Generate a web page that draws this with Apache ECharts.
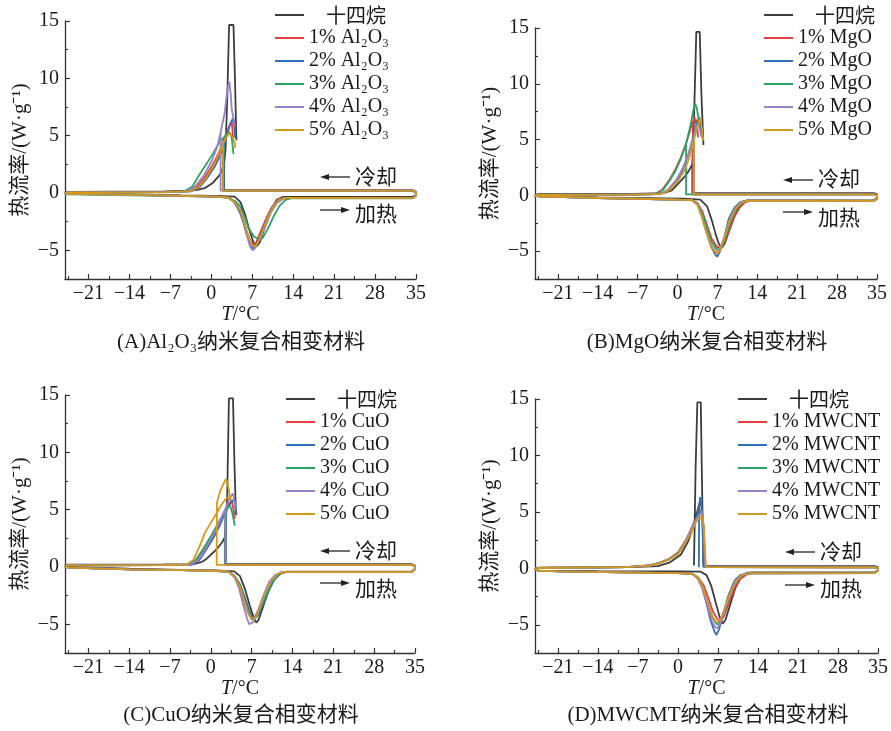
<!DOCTYPE html>
<html>
<head>
<meta charset="utf-8">
<script src="https://cdn.jsdelivr.net/npm/echarts/dist/echarts.min.js"></script>
<style>
  html, body { margin: 0; padding: 0; background: #fff; }
  #chart { width: 891px; height: 731px; }
</style>
</head>
<body>
<div id="chart"></div>
<script>
// ---- axis ticks ----
const X_MAJOR = [-21, -14, -7, 0, 7, 14, 21, 28, 35];
const X_MINOR = [-24.5, -17.5, -10.5, -3.5, 3.5, 10.5, 17.5, 24.5, 31.5];
const Y_MAJOR = [-5, 0, 5, 10, 15];
const Y_MINOR = [-2.5, 2.5, 7.5, 12.5];

// ---- legend names ----
const NAMES_AL = ['十四烷', '1% Al₂O₃', '2% Al₂O₃', '3% Al₂O₃', '4% Al₂O₃', '5% Al₂O₃'];
const NAMES_MG = ['十四烷', '1% MgO', '2% MgO', '3% MgO', '4% MgO', '5% MgO'];
const NAMES_CU = ['十四烷', '1% CuO', '2% CuO', '3% CuO', '4% CuO', '5% CuO'];
const NAMES_CNT = ['十四烷', '1% MWCNT', '2% MWCNT', '3% MWCNT', '4% MWCNT', '5% MWCNT'];

// ---- DSC loops [T (°C), heat flow (W/g)]; null pair = pen up ----
// (A) Al2O3
const al_0 = [[-24.6,0.1],[-25,0.02],[-24.5,-0.05],[-14,-0.12],[-5,-0.2],[1,-0.25],[4,-0.32],[5,-0.8],[5.8,-1.9],[6.5,-3.2],[7.2,-4.3],[7.8,-4.65],[8.3,-4.3],[9.2,-2.9],[10.2,-1.5],[11.2,-0.6],[12.2,-0.35],[34.4,-0.35],[35,-0.15],[35,0.1],[34.4,0.25],[2.2,0.25],[2.2,2.5],
  [null,null],
  [-24.6,0.1],[-8,0.15],[-3.5,0.2],[-2.2,0.3],[-1,0.45],[0.3,0.9],[1.5,1.6],[2.2,2.5],[2.45,3.9],[2.75,8.5],[3.05,14.65],[3.8,14.65],[4.05,10],[4.3,4.6]];
const al_1 = [[-24.6,0.05],[-25,-0.02],[-24.4,-0.08],[-14,-0.17],[-5,-0.25],[1,-0.32],[3,-0.4],[4,-0.8],[5,-1.6],[5.6,-2.5],[6.3,-3.7],[6.9,-4.4],[7.25,-4.55],[7.7,-4.3],[8.5,-3.3],[9.4,-2.2],[10.4,-1.2],[11.4,-0.6],[12.5,-0.43],[34.4,-0.45],[35,-0.25],[35,0.05],[34.4,0.2],[2.0,0.2],[2.0,4.4],
  [null,null],
  [-24.6,0.05],[-8,0.08],[-3.8,0.15],[-2.5,0.5],[-1.2,1.3],[0.2,2.4],[1.2,3.4],[2.0,4.4],[2.6,5.2],[3.0,5.7],[3.5,6.2],[3.65,5.4],[3.75,4.5]];
const al_2 = [[-24.6,0.05],[-25,-0.02],[-24.4,-0.08],[-14,-0.17],[-5,-0.25],[1,-0.32],[3,-0.4],[4,-0.85],[4.9,-1.7],[5.5,-2.6],[6.1,-3.7],[6.7,-4.6],[7.15,-4.85],[7.6,-4.6],[8.4,-3.7],[9.3,-2.5],[10.3,-1.4],[11.3,-0.7],[12.4,-0.45],[34.4,-0.45],[35,-0.25],[35,0.05],[34.4,0.2],[2.1,0.2],[2.1,4.0],
  [null,null],
  [-24.6,0.05],[-8,0.08],[-3.4,0.15],[-2,0.5],[-0.7,1.3],[0.6,2.3],[1.6,3.4],[2.1,4.0],[2.5,4.7],[3.2,6.0],[3.7,6.5],[3.95,5.8],[4.1,4.8]];
const al_3 = [[-24.6,0.03],[-25,-0.05],[-24.4,-0.12],[-14,-0.2],[-5,-0.27],[1,-0.34],[3,-0.42],[4.2,-0.75],[5,-1.2],[5.8,-2.2],[6.4,-3.1],[7.3,-3.8],[8.2,-4.05],[8.8,-3.9],[9.8,-3.0],[10.7,-2.0],[11.7,-1.1],[12.7,-0.6],[13.8,-0.45],[34.4,-0.47],[35,-0.25],[35,0.03],[34.4,0.18],[2.1,0.18],[2.1,4.8],
  [null,null],
  [-24.6,0.03],[-8,0.06],[-4.5,0.15],[-3.2,0.6],[-1.9,1.7],[-0.5,2.8],[0.35,3.5],[1.5,4.5],[2.1,4.8],[2.5,5.1],[3.2,5.3],[3.5,4.8],[3.8,3.4]];
const al_4 = [[-24.6,0.05],[-25,-0.02],[-24.4,-0.08],[-14,-0.17],[-5,-0.25],[1,-0.32],[3,-0.4],[4,-0.8],[5,-1.5],[5.5,-2.2],[6.1,-3.7],[6.6,-4.6],[7.05,-5.0],[7.5,-4.8],[8.3,-4.0],[9.2,-3.0],[10.2,-1.7],[11.2,-0.9],[12.3,-0.5],[13,-0.43],[34.4,-0.45],[35,-0.25],[35,0.05],[34.4,0.2],[1.6,0.2],[1.6,5.3],
  [null,null],
  [-24.6,0.05],[-8,0.08],[-4.1,0.15],[-2.7,0.6],[-1.3,1.5],[0,2.7],[1.0,4.0],[1.6,5.3],[2.3,7.0],[2.8,9.2],[3.1,9.7],[3.35,8.5],[3.5,7.3],[3.7,7.3],[3.9,6.3],[4.0,5.8]];
const al_5 = [[-24.6,0.05],[-25,-0.02],[-24.4,-0.08],[-14,-0.17],[-5,-0.25],[1,-0.32],[3,-0.4],[4,-0.8],[5,-1.6],[5.7,-2.7],[6.4,-3.9],[7.0,-4.55],[7.4,-4.7],[7.9,-4.4],[8.7,-3.4],[9.6,-2.2],[10.6,-1.2],[11.6,-0.6],[12.6,-0.43],[34.4,-0.45],[35,-0.25],[35,0.05],[34.4,0.2],[2.0,0.2],[2.0,4.3],
  [null,null],
  [-24.6,0.05],[-8,0.08],[-3.6,0.15],[-2.2,0.5],[-0.9,1.3],[0.4,2.4],[1.3,3.4],[2.0,4.3],[2.6,4.9],[3.1,5.2],[3.6,4.9],[4.0,4.4],[4.1,3.9]];

// (B) MgO
const mg_0 = [[-24.6,0.1],[-25,0.02],[-24.5,-0.05],[-14,-0.18],[-5,-0.25],[1,-0.3],[4,-0.38],[5.2,-1.0],[6.0,-2.2],[6.7,-3.5],[7.3,-4.4],[7.8,-4.7],[8.3,-4.3],[9.2,-3.0],[10.2,-1.6],[11.2,-0.7],[12.2,-0.45],[34.4,-0.45],[35,-0.2],[35,0.1],[34.4,0.2],[2.6,0.2],[2.6,2.8],
  [null,null],
  [-24.6,0.1],[-8,0.12],[-2.5,0.2],[-1,0.45],[0.2,1.1],[1.3,1.7],[2.1,2.3],[2.6,2.8],[2.9,7],[3.3,14.66],[3.9,14.66],[4.2,9],[4.55,4.5]];
const mg_1 = [[-24.6,0.05],[-25,-0.02],[-24.4,-0.08],[-14,-0.24],[-5,-0.33],[1,-0.4],[2.5,-0.42],[3.5,-0.7],[4.4,-1.5],[5.2,-2.7],[6.0,-3.9],[6.9,-4.6],[7.5,-4.75],[8.1,-4.3],[9.0,-3.2],[9.9,-2.0],[10.9,-1.1],[11.9,-0.6],[13,-0.48],[34.4,-0.5],[35,-0.3],[35,0.02],[34.4,0.08],[2.7,0.08],[2.7,6.6],
  [null,null],
  [-24.6,0.05],[-8,0.06],[-4,0.1],[-2.7,0.5],[-1.4,1.4],[-0.4,2.3],[0.6,3.4],[1.6,4.8],[2.3,6.0],[2.7,6.6],[2.95,7.1],[3.2,6.4],[3.35,6.8],[3.6,5.2]];
const mg_2 = [[-24.6,0.05],[-25,-0.02],[-24.4,-0.08],[-14,-0.24],[-5,-0.33],[1,-0.4],[2.5,-0.42],[3.5,-0.8],[4.3,-1.9],[5.1,-3.3],[5.9,-4.6],[6.6,-5.3],[6.95,-5.5],[7.4,-5.1],[8.2,-3.8],[9.0,-2.1],[10,-1.1],[11,-0.6],[12,-0.48],[34.4,-0.5],[35,-0.3],[35,0.02],[34.4,0.08],[2.85,0.08],[2.85,5.4],
  [null,null],
  [-24.6,0.05],[-8,0.06],[-3,0.1],[-1.5,0.5],[0,1.4],[1,2.4],[2,3.8],[2.85,5.4],[3.4,6.5],[3.85,7.0],[4.1,6.0],[4.3,5.2]];
const mg_3 = [[-24.6,0.05],[-25,-0.02],[-24.4,-0.08],[-14,-0.24],[-5,-0.33],[1,-0.4],[2.5,-0.42],[3.5,-0.75],[4.4,-1.7],[5.2,-3.0],[6.0,-4.2],[6.8,-4.8],[7.3,-4.9],[7.8,-4.6],[8.6,-3.5],[9.5,-2.1],[10.5,-1.1],[11.5,-0.6],[12.6,-0.48],[34.4,-0.5],[35,-0.3],[35,0.02],[34.4,0.08],[1.5,0.08],[1.5,4.6],
  [null,null],
  [-24.6,0.05],[-8,0.06],[-3.9,0.1],[-2.5,0.5],[-1.3,1.4],[-0.35,2.2],[0.6,3.3],[1.5,4.6],[2.3,6.3],[2.8,7.7],[3.1,8.2],[3.4,7.8],[3.7,6.8],[4.0,5.8]];
const mg_4 = [[-24.6,0.05],[-25,-0.02],[-24.4,-0.08],[-14,-0.24],[-5,-0.33],[1,-0.4],[2.5,-0.42],[3.5,-0.8],[4.3,-1.9],[5.1,-3.3],[5.9,-4.5],[6.6,-5.0],[7.0,-5.1],[7.5,-4.8],[8.3,-3.6],[9.2,-2.1],[10.2,-1.1],[11.2,-0.6],[12.2,-0.48],[34.4,-0.5],[35,-0.3],[35,0.02],[34.4,0.08],[2.85,0.08],[2.85,5.2],
  [null,null],
  [-24.6,0.05],[-8,0.06],[-3.2,0.1],[-1.7,0.5],[-0.2,1.4],[0.9,2.4],[1.9,3.7],[2.85,5.2],[3.3,6.1],[3.6,6.5],[3.9,6.0],[4.2,5.3]];
const mg_5 = [[-24.6,0.05],[-25,-0.02],[-24.4,-0.08],[-14,-0.24],[-5,-0.33],[1,-0.4],[2.5,-0.42],[3.5,-0.85],[4.3,-2.0],[5.1,-3.4],[5.9,-4.6],[6.6,-5.1],[7.05,-5.2],[7.5,-4.9],[8.3,-3.7],[9.2,-2.2],[10.2,-1.2],[11.2,-0.65],[12.3,-0.48],[34.4,-0.5],[35,-0.3],[35,0.02],[34.4,0.08],[2.9,0.08],[2.9,5.0],
  [null,null],
  [-24.6,0.05],[-8,0.06],[-3,0.1],[-1.5,0.45],[0.1,1.3],[1.2,2.2],[2.1,3.4],[2.9,5.0],[3.5,6.2],[4.0,6.9],[4.3,6.0],[4.5,4.9]];

// (C) CuO
const cu_0 = [[-24.6,0.2],[-25,0.1],[-24.5,0.0],[-14,-0.15],[-5,-0.25],[1,-0.3],[4,-0.38],[5,-0.8],[5.9,-2.0],[6.7,-3.4],[7.4,-4.5],[7.8,-4.85],[8.2,-4.6],[9.0,-3.4],[10,-1.9],[11,-0.9],[12,-0.5],[13,-0.4],[34.4,-0.4],[35,-0.15],[35,0.15],[34.4,0.25],[2.4,0.25],[2.4,2.6],
  [null,null],
  [-24.6,0.2],[-8,0.22],[-3,0.25],[-1.5,0.45],[-0.75,0.7],[1.0,1.55],[2.0,2.2],[2.4,2.6],[2.8,6],[3.1,14.7],[3.8,14.7],[4.05,9],[4.3,4.6]];
const cu_1 = [[-24.6,0.15],[-25,0.05],[-24.4,-0.05],[-14,-0.2],[-5,-0.28],[1,-0.35],[3,-0.4],[4,-0.8],[4.9,-1.7],[5.6,-2.9],[6.3,-3.9],[6.8,-4.4],[7.0,-4.5],[7.5,-4.4],[8.4,-3.5],[9.4,-2.3],[10.4,-1.3],[11.5,-0.7],[12.7,-0.45],[34.4,-0.42],[35,-0.2],[35,0.1],[34.4,0.18],[2.5,0.18],[2.5,5.0],
  [null,null],
  [-24.6,0.15],[-8,0.17],[-3.7,0.18],[-2.4,0.6],[-1.2,1.5],[0,2.5],[1.1,3.5],[2.1,4.6],[2.5,5.0],[2.9,5.4],[3.55,5.8],[3.9,5.0],[4.1,4.2]];
const cu_2 = [[-24.6,0.15],[-25,0.05],[-24.4,-0.05],[-14,-0.2],[-5,-0.28],[1,-0.35],[3,-0.4],[4,-0.75],[5,-1.5],[5.8,-2.6],[6.6,-3.8],[7.2,-4.5],[7.5,-4.6],[8.0,-4.3],[8.9,-3.3],[9.9,-2.1],[10.9,-1.1],[12,-0.55],[13,-0.42],[34.4,-0.42],[35,-0.2],[35,0.1],[34.4,0.18],[2.6,0.18],[2.6,4.9],
  [null,null],
  [-24.6,0.15],[-8,0.17],[-3.3,0.18],[-2,0.6],[-0.8,1.5],[0.4,2.5],[1.5,3.6],[2.6,4.9],[3.4,5.6],[4.0,5.9],[4.25,5.2],[4.4,4.5]];
const cu_3 = [[-24.6,0.15],[-25,0.05],[-24.4,-0.05],[-14,-0.2],[-5,-0.28],[1,-0.35],[3,-0.4],[4,-0.8],[5,-1.6],[5.7,-2.8],[6.4,-3.9],[7.0,-4.6],[7.3,-4.7],[7.8,-4.4],[8.7,-3.4],[9.6,-2.2],[10.6,-1.2],[11.7,-0.6],[12.8,-0.43],[34.4,-0.42],[35,-0.2],[35,0.1],[34.4,0.18],[2.5,0.18],[2.5,4.9],
  [null,null],
  [-24.6,0.15],[-8,0.17],[-3.9,0.18],[-2.6,0.6],[-1.4,1.5],[-0.2,2.5],[0.9,3.5],[2.0,4.5],[2.5,4.9],[2.8,5.2],[3.3,5.35],[3.7,4.7],[4.1,3.6]];
const cu_4 = [[-24.6,0.15],[-25,0.05],[-24.4,-0.05],[-14,-0.2],[-5,-0.28],[1,-0.35],[3,-0.4],[4,-0.85],[4.8,-1.8],[5.5,-3.2],[6.2,-4.5],[6.6,-5.0],[6.85,-5.1],[7.3,-4.8],[8.1,-3.8],[9.0,-2.5],[10.0,-1.3],[11.0,-0.7],[12.2,-0.43],[34.4,-0.42],[35,-0.2],[35,0.1],[34.4,0.18],[2.5,0.18],[2.5,5.1],
  [null,null],
  [-24.6,0.15],[-8,0.17],[-3.5,0.18],[-2.2,0.6],[-1.0,1.5],[0.2,2.6],[1.3,3.7],[2.5,5.1],[3.2,6.0],[3.8,6.4],[4.05,5.8],[4.25,5.0]];
const cu_5 = [[-24.6,0.15],[-25,0.05],[-24.4,-0.05],[-14,-0.2],[-5,-0.28],[1,-0.35],[3,-0.4],[4,-0.8],[4.9,-1.6],[5.7,-2.9],[6.4,-4.0],[6.95,-4.5],[7.25,-4.6],[7.7,-4.4],[8.5,-3.4],[9.4,-2.2],[10.4,-1.2],[11.5,-0.6],[12.7,-0.42],[34.4,-0.42],[35,-0.2],[35,0.1],[34.4,0.18],[1.0,0.18],[1.05,5.6],[1.6,6.6],[2.2,7.3],[2.65,7.7],[2.95,7.1],[3.3,6.1],[3.5,5.8],
  [null,null],
  [-24.6,0.15],[-8,0.17],[-4.2,0.2],[-3,0.6],[-1.9,1.84],[-1.0,3.0],[0.4,4.2],[1.8,5.4],[2.5,5.9],[3.0,6.1],[3.4,5.9],[3.5,5.8]];

// (D) MWCNT
const cnt_0 = [[-24.6,0.05],[-25,-0.05],[-24.4,-0.2],[-14,-0.25],[0,-0.27],[4,-0.3],[5,-0.6],[5.8,-1.5],[6.6,-3.0],[7.3,-4.3],[7.8,-4.9],[8.3,-4.6],[9.1,-3.3],[10,-1.8],[11,-0.8],[12,-0.4],[13,-0.35],[34.4,-0.35],[35,-0.15],[35,0.1],[34.4,0.2],[4.45,0.2],[4.2,8],[4.0,14.7],[3.4,14.7],[3.1,9],[2.85,1.5],[2.8,0.25],
  [null,null],
  [-24.6,0.05],[-8,0.1],[-3.5,0.2],[-1.5,0.5],[0.5,1.2],[1.8,2.4],[2.7,3.7],[3.3,4.9],[3.8,5.8],[4.1,5.6],[4.3,4.5]];
const cnt_1 = [[-24.6,0.03],[-25,-0.05],[-24.4,-0.2],[-21,-0.27],[-7,-0.38],[0,-0.43],[2.5,-0.48],[3.5,-0.8],[4.5,-1.5],[5.3,-2.6],[6.1,-3.8],[6.9,-4.5],[7.4,-4.7],[8.0,-4.3],[8.9,-3.1],[9.9,-1.8],[10.9,-0.95],[12,-0.55],[13,-0.43],[34.4,-0.42],[35,-0.2],[35,0.05],[34.4,0.09],[4.8,0.1],[4.7,1.0],[4.5,3.6],[4.2,5.2],[4.0,5.15],[3.4,4.7],[2.5,3.7],[1.4,2.5],[0,1.4],[-1.5,0.85],[-3.3,0.48],[-5,0.27],[-9,0.1],[-24.6,0.03]];
const cnt_2 = [[-24.6,0.03],[-25,-0.05],[-24.4,-0.2],[-21,-0.27],[-7,-0.38],[0,-0.43],[2.5,-0.48],[3.5,-0.9],[4.3,-1.8],[5.0,-3.1],[5.7,-4.6],[6.4,-5.6],[6.75,-5.9],[7.2,-5.4],[8.0,-3.9],[8.9,-2.3],[9.9,-1.1],[10.9,-0.6],[12,-0.45],[34.4,-0.42],[35,-0.2],[35,0.05],[34.4,0.09],[4.5,0.1],[4.35,3.0],[4.15,5.6],[3.9,6.3],[3.72,5.6],[3.68,2.0],[3.66,0.1],
  [null,null],
  [-24.6,0.03],[-9,0.1],[-5,0.25],[-3.3,0.45],[-1.5,0.8],[0,1.3],[1.4,2.4],[2.55,3.6],[3.3,4.6],[3.72,5.6]];
const cnt_3 = [[-24.6,0.03],[-25,-0.05],[-24.4,-0.2],[-21,-0.27],[-7,-0.38],[0,-0.43],[2.5,-0.48],[3.5,-0.85],[4.4,-1.7],[5.2,-3.0],[6.0,-4.3],[6.7,-4.9],[7.1,-5.0],[7.6,-4.6],[8.4,-3.5],[9.3,-2.1],[10.3,-1.1],[11.4,-0.6],[12.5,-0.45],[34.4,-0.42],[35,-0.2],[35,0.05],[34.4,0.09],[4.8,0.1],[4.7,1.0],[4.5,3.6],[4.2,5.1],[4.0,5.05],[3.4,4.55],[2.55,3.65],[1.4,2.45],[0,1.35],[-1.5,0.82],[-3.3,0.47],[-5,0.26],[-9,0.1],[-24.6,0.03]];
const cnt_4 = [[-24.6,0.03],[-25,-0.05],[-24.4,-0.2],[-21,-0.27],[-7,-0.38],[0,-0.43],[2.5,-0.48],[3.5,-0.9],[4.3,-1.8],[5.1,-3.2],[5.9,-4.6],[6.5,-5.2],[6.9,-5.3],[7.4,-4.9],[8.2,-3.7],[9.1,-2.2],[10.1,-1.1],[11.1,-0.6],[12.2,-0.45],[34.4,-0.42],[35,-0.2],[35,0.05],[34.4,0.09],[4.8,0.1],[4.7,1.0],[4.5,3.5],[4.2,5.0],[4.0,4.95],[3.4,4.5],[2.55,3.6],[1.4,2.4],[0,1.3],[-1.5,0.8],[-3.3,0.45],[-5,0.25],[-9,0.1],[-24.6,0.03]];
const cnt_5 = [[-24.6,0.03],[-25,-0.05],[-24.4,-0.2],[-21,-0.27],[-7,-0.38],[0,-0.43],[2.5,-0.48],[3.5,-0.85],[4.4,-1.7],[5.2,-3.0],[6.0,-4.2],[6.6,-4.7],[7.0,-4.8],[7.5,-4.5],[8.3,-3.4],[9.2,-2.1],[10.2,-1.1],[11.2,-0.6],[12.3,-0.45],[34.4,-0.42],[35,-0.2],[35,0.05],[34.4,0.09],[4.9,0.1],[4.8,1.0],[4.6,3.2],[4.3,4.65],[4.0,4.6],[3.4,4.3],[2.55,3.45],[1.4,2.3],[0,1.25],[-1.5,0.78],[-3.3,0.43],[-5,0.24],[-9,0.1],[-24.6,0.03]];

// ---- styling ----
const COLORS = ['#3d3d3d', '#e63b3f', '#2f6eb8', '#28a462', '#9a80c8', '#d4981f'];
const SERIF = '"Liberation Serif", "Times New Roman", "Noto Sans CJK SC", serif';
const CJK = '"Noto Sans CJK SC", "Liberation Serif", sans-serif';
const INK = '#1a1a1a';
const AXIS = '#333333';

const PANELS = [
  { box: { left: 65, top: 21, width: 351, height: 258 }, names: NAMES_AL,
    curves: [al_0, al_1, al_2, al_3, al_4, al_5], legend: { left: 275, top: 5 },
    title: { x: 241, y: 342, text: '(A)Al₂O₃纳米复合相变材料' },
    note: { x1: 320, x2: 350, yc: 177, yh: 210, tx: 355, tyc: 176, tyh: 213 } },
  { box: { left: 535, top: 28, width: 342, height: 251 }, names: NAMES_MG,
    curves: [mg_0, mg_1, mg_2, mg_3, mg_4, mg_5], legend: { left: 764, top: 5 },
    title: { x: 707, y: 342, text: '(B)MgO纳米复合相变材料' },
    note: { x1: 783, x2: 813, yc: 180, yh: 212, tx: 818, tyc: 178, tyh: 217 } },
  { box: { left: 65, top: 395, width: 350, height: 258 }, names: NAMES_CU,
    curves: [cu_0, cu_1, cu_2, cu_3, cu_4, cu_5], legend: { left: 286, top: 389 },
    title: { x: 241, y: 715, text: '(C)CuO纳米复合相变材料' },
    note: { x1: 320, x2: 350, yc: 551, yh: 583, tx: 355, tyc: 550, tyh: 588 } },
  { box: { left: 535, top: 399, width: 343, height: 254 }, names: NAMES_CNT,
    curves: [cnt_0, cnt_1, cnt_2, cnt_3, cnt_4, cnt_5], legend: { left: 738, top: 389 },
    title: { x: 708, y: 715, text: '(D)MWCMT纳米复合相变材料' },
    note: { x1: 785, x2: 815, yc: 552, yh: 585, tx: 820, tyc: 551, tyh: 588 } }
];

const minus = v => (v < 0 ? '\u2212' + Math.abs(v) : String(v));

function makeX(gi) {
  return [
    { gridIndex: gi, type: 'value', min: -25, max: 35, position: 'bottom',
      axisLine: { onZero: false, lineStyle: { color: AXIS, width: 1.3 } },
      axisTick: { customValues: X_MAJOR, inside: true, length: 5, lineStyle: { color: AXIS, width: 1.2 } },
      axisLabel: { customValues: X_MAJOR, formatter: minus, margin: 5, fontSize: 20, fontFamily: SERIF, color: INK },
      splitLine: { show: false },
      name: '{i|T}/°C', nameLocation: 'middle', nameGap: 26, nameMoveOverlap: false,
      nameTextStyle: { fontSize: 20, fontFamily: SERIF, color: INK,
        rich: { i: { fontSize: 20, fontFamily: SERIF, fontStyle: 'italic', color: INK } } } },
    { gridIndex: gi, type: 'value', min: -25, max: 35, position: 'bottom',
      axisLine: { show: false, onZero: false },
      axisTick: { customValues: X_MINOR, inside: true, length: 3, lineStyle: { color: AXIS, width: 1.1 } },
      axisLabel: { show: false }, splitLine: { show: false } }
  ];
}

function makeY(gi) {
  return [
    { gridIndex: gi, type: 'value', min: -7.5, max: 15, position: 'left',
      axisLine: { onZero: false, lineStyle: { color: AXIS, width: 1.3 } },
      axisTick: { customValues: Y_MAJOR, inside: true, length: 5, lineStyle: { color: AXIS, width: 1.2 } },
      axisLabel: { customValues: Y_MAJOR, formatter: minus, margin: 6, fontSize: 20, fontFamily: SERIF, color: INK },
      splitLine: { show: false },
      name: '热流率/(W·g⁻¹)', nameLocation: 'middle', nameGap: 34, nameRotate: 90, nameMoveOverlap: false,
      nameTextStyle: { fontSize: 21, fontFamily: SERIF, color: INK } },
    { gridIndex: gi, type: 'value', min: -7.5, max: 15, position: 'left',
      axisLine: { show: false, onZero: false },
      axisTick: { customValues: Y_MINOR, inside: true, length: 3, lineStyle: { color: AXIS, width: 1.1 } },
      axisLabel: { show: false }, splitLine: { show: false } }
  ];
}

function makeLegend(p) {
  return {
    orient: 'vertical', left: p.legend.left, top: p.legend.top, padding: 0,
    icon: 'rect', itemWidth: 29, itemHeight: 2, itemGap: 3, selectedMode: false,
    data: p.names,
    formatter: name => (name === '十四烷' ? '{c|' + name + '}' : name),
    textStyle: { fontSize: 20, lineHeight: 20, fontFamily: SERIF, color: INK,
      rich: { c: { fontSize: 20, lineHeight: 20, fontFamily: CJK, color: INK, padding: [0, 0, 0, 17] } } }
  };
}

function noteGraphics(n) {
  const ink = '#222';
  return [
    { type: 'line', shape: { x1: n.x1 + 6, y1: n.yc, x2: n.x2, y2: n.yc }, style: { stroke: ink, lineWidth: 1.3 } },
    { type: 'polygon', shape: { points: [[n.x1, n.yc], [n.x1 + 9, n.yc - 3], [n.x1 + 9, n.yc + 3]] }, style: { fill: ink } },
    { type: 'text', x: n.tx, y: n.tyc, style: { text: '冷却', fontSize: 21, fontFamily: CJK, fill: INK, verticalAlign: 'middle' } },
    { type: 'line', shape: { x1: n.x1, y1: n.yh, x2: n.x2 - 6, y2: n.yh }, style: { stroke: ink, lineWidth: 1.3 } },
    { type: 'polygon', shape: { points: [[n.x2, n.yh], [n.x2 - 9, n.yh - 3], [n.x2 - 9, n.yh + 3]] }, style: { fill: ink } },
    { type: 'text', x: n.tx, y: n.tyh, style: { text: '加热', fontSize: 21, fontFamily: CJK, fill: INK, verticalAlign: 'middle' } }
  ];
}

const graphics = [];
PANELS.forEach(p => {
  graphics.push({ type: 'text', x: p.title.x, y: p.title.y,
    style: { text: p.title.text, fontSize: 21, fontFamily: SERIF, fill: INK, align: 'center', verticalAlign: 'middle' } });
  noteGraphics(p.note).forEach(g => graphics.push(g));
});

const series = [];
PANELS.forEach((p, i) => {
  p.curves.forEach((d, k) => {
    series.push({
      type: 'line', name: p.names[k], xAxisIndex: 2 * i, yAxisIndex: 2 * i,
      data: d, symbol: 'none', showSymbol: false, connectNulls: false, silent: true,
      lineStyle: { color: COLORS[k], width: 1.8 }, itemStyle: { color: COLORS[k] },
      emphasis: { disabled: true }
    });
  });
});

const option = {
  animation: false,
  backgroundColor: '#ffffff',
  grid: PANELS.map(p => Object.assign({ containLabel: false, outerBoundsMode: 'none' }, p.box)),
  xAxis: PANELS.flatMap((p, i) => makeX(i)),
  yAxis: PANELS.flatMap((p, i) => makeY(i)),
  legend: PANELS.map(makeLegend),
  series: series,
  graphic: graphics
};

const chart = echarts.init(document.getElementById('chart'), null, { renderer: 'canvas' });
chart.setOption(option);
</script>
</body>
</html>
